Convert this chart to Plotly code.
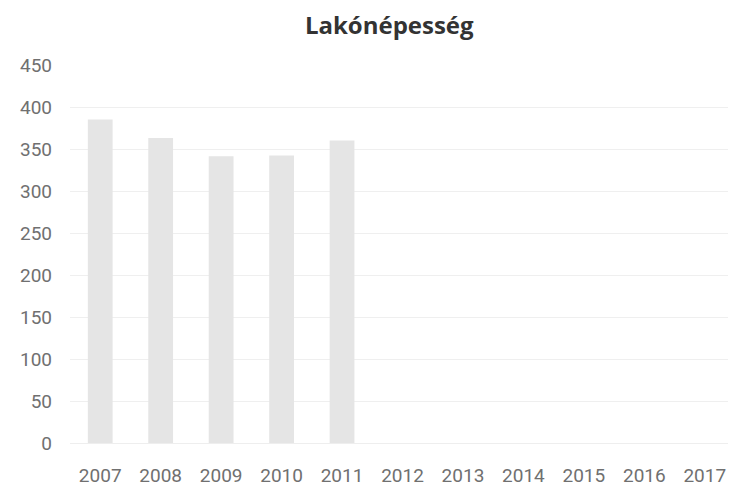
import plotly.graph_objects as go

years = ["2007", "2008", "2009", "2010", "2011", "2012", "2013", "2014", "2015", "2016", "2017"]
population = [386, 364, 342, 343, 361, None, None, None, None, None, None]
y_ticks = [0, 50, 100, 150, 200, 250, 300, 350, 400, 450]

fig = go.Figure()
fig.add_trace(go.Bar(
    x=years, y=population,
    marker=dict(color="#e5e5e5", line=dict(width=0)),
    width=0.41,
))

fig.update_layout(
    width=736, height=492,
    margin=dict(l=62, r=9, t=57, b=57),
    paper_bgcolor="white", plot_bgcolor="white",
    title=dict(text="<b>Lakónépesség</b>", x=0.518, xanchor="center", y=0.965, yanchor="middle",
               font=dict(family="Open Sans", size=24, color="#333333")),
    showlegend=False,
    xaxis=dict(type="category", range=[-0.5, 10.5], showgrid=False, showline=True,
               linecolor="#eeeeee", ticks="", ticklabelstandoff=15,
               tickfont=dict(family="Roboto", size=19, color="#707070")),
    yaxis=dict(range=[0, 451], tickvals=y_ticks, showgrid=True, gridcolor="#efefef",
               zeroline=False, showline=False, ticks="", ticklabelstandoff=17,
               tickfont=dict(family="Roboto", size=19, color="#707070")),
)

fig.write_html("out.html")
